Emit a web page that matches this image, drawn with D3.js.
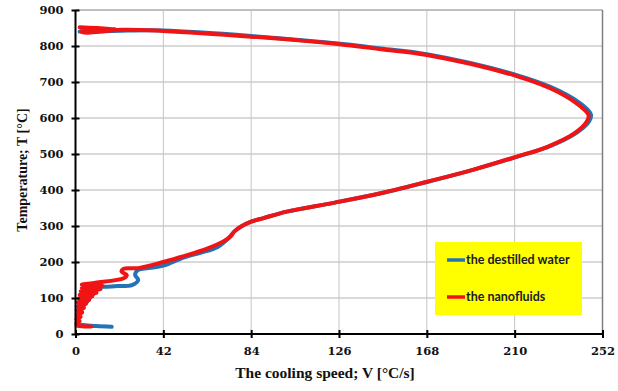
<!DOCTYPE html>
<html>
<head>
<meta charset="utf-8">
<script src="https://cdn.jsdelivr.net/npm/d3@7"></script>
<style>
  body { margin: 0; background: #fff; }
  .axis text { font-family: "DejaVu Serif", serif; font-weight: bold; font-size: 11.5px; fill: #111; }
  .title { font-family: "Liberation Serif", serif; font-weight: bold; fill: #111; }
  .legend text { font-family: Lato, sans-serif; font-weight: bold; font-size: 12.5px; fill: #1a1a2a; }
</style>
</head>
<body>
<div id="chart"></div>
<script>
// axis ticks
const xTicks = [0, 42, 84, 126, 168, 210, 252];
const yTicks = [0, 100, 200, 300, 400, 500, 600, 700, 800, 900];

// the destilled water: cooling speed V [°C/s] and temperature T [°C]
const waterV = [2, 12, 25, 42, 84, 129, 146, 168, 211, 231.5, 243, 246.5, 245.5, 239, 226, 211, 190, 168.5, 146, 124, 101, 90, 84, 79, 76, 73, 68, 60, 52, 42, 35, 30, 28.5, 30, 27, 20, 13.3, 8.5,
  4.5, 10, 3.5, 8.5, 3, 7, 2, 5.5, 1.5, 4, 1, 3, 0.7, 2.2, 0.5, 1.5, 0.5, 3.7, 10, 17.3];
const waterT = [840, 841, 843, 843, 828, 805, 793, 777, 719, 675, 633, 609, 590, 557, 520, 492, 456, 423, 391, 365, 340, 322, 312, 298, 285, 265, 242, 226, 213, 190, 183, 178, 164, 150, 136, 133, 131, 127,
  125, 121, 114, 110, 103, 99, 92, 88, 80, 75, 67, 62, 54, 48, 41, 35, 29, 25, 22, 20];

// the nanofluids
const nanoV = [2, 20, 3, 18, 3, 6, 22, 42, 84, 129, 146, 168, 210.6, 230.5, 241.7, 245.3, 244.5, 238.5, 225.7, 210.6, 190, 168.2, 145.9, 124, 101, 90, 84, 79, 76, 74, 69, 62, 55, 42, 30, 23, 22, 24.5, 23, 10,
  8, 3, 13, 3, 12, 2.5, 10, 2, 8, 1.5, 6.5, 1, 5, 1, 4, 0.8, 3.2, 0.6, 2.5, 0.5, 2, 0.5, 1.5, 0.5, 7.5];
const nanoT = [852, 847, 847, 846.5, 838, 837, 845, 842, 826, 803, 791, 775, 717, 673, 631, 608, 590, 557, 520, 492, 456, 423, 391, 365, 340, 322, 312, 298, 285, 270, 252, 235, 222, 200, 183, 181, 173, 164, 155, 143,
  141, 137, 134, 128, 124, 119, 114, 109, 104, 99, 94, 88, 83, 77, 72, 65, 60, 53, 48, 41, 36, 30, 26, 23, 21];

const seriesNames = ['the destilled water', 'the nanofluids'];
const seriesColors = ['#2373b6', '#f01414'];

class Chart {

    constructor(opts) {
        this.series = opts.series;
        this.element = opts.element;
        this.draw();
    }

    draw() {
        this.width = 618;
        this.height = 391;
        // plot area box in pixels
        this.box = { left: 75.5, right: 602.5, top: 10, bottom: 334 };

        this.element.innerHTML = '';
        this.svg = d3.select(this.element).append('svg')
            .attr('width', this.width)
            .attr('height', this.height);

        this.createScales();
        this.addGrid();
        this.addLines();
        this.addAxes();
        this.addTitles();
        this.addLegend();
    }

    createScales() {
        const b = this.box;
        this.xScale = d3.scaleLinear().domain([0, 252]).range([b.left, b.right]);
        this.yScale = d3.scaleLinear().domain([0, 900]).range([b.bottom, b.top]);
    }

    addGrid() {
        const b = this.box;
        const g = this.svg.append('g');

        g.selectAll('.hgrid')
            .data(yTicks.slice(1))
            .join('line')
            .attr('x1', b.left).attr('x2', b.right)
            .attr('y1', d => this.yScale(d)).attr('y2', d => this.yScale(d))
            .attr('stroke', d => d === 900 ? '#7f7f7f' : '#b4b4b4')
            .attr('stroke-width', 1);

        g.selectAll('.vgrid')
            .data(xTicks.slice(1))
            .join('line')
            .attr('x1', d => this.xScale(d)).attr('x2', d => this.xScale(d))
            .attr('y1', b.top).attr('y2', b.bottom)
            .attr('stroke', d => d === 252 ? '#7f7f7f' : '#c4c4c4')
            .attr('stroke-width', d => d === 252 ? 1.5 : 1);
    }

    addLines() {
        const line = d3.line()
            .x(d => this.xScale(d[0]))
            .y(d => this.yScale(d[1]))
            .curve(d3.curveCatmullRom.alpha(0.5));

        this.svg.append('g')
            .selectAll('path')
            .data(this.series)
            .join('path')
            .attr('d', d => line(d3.zip(d.v, d.t)))
            .attr('fill', 'none')
            .attr('stroke', d => d.color)
            .attr('stroke-width', 4)
            .attr('stroke-linejoin', 'round')
            .attr('stroke-linecap', 'round');
    }

    addAxes() {
        const b = this.box;

        const xAxis = d3.axisBottom(this.xScale)
            .tickValues(xTicks)
            .tickSize(4)
            .tickPadding(9);

        const yAxis = d3.axisLeft(this.yScale)
            .tickValues(yTicks)
            .tickSize(4)
            .tickPadding(8);

        const gx = this.svg.append('g')
            .attr('class', 'axis')
            .attr('transform', `translate(0,${b.bottom})`)
            .call(xAxis);

        const gy = this.svg.append('g')
            .attr('class', 'axis')
            .attr('transform', `translate(${b.left},0)`)
            .call(yAxis);

        // black axis lines, ticks crossing the axis
        [gx, gy].forEach(g => {
            g.select('.domain').remove();
            g.selectAll('.tick line').attr('stroke', '#000').attr('stroke-width', 2);
        });
        gx.selectAll('.tick line').attr('y1', -4).attr('y2', 4);
        gy.selectAll('.tick line').attr('x1', -4).attr('x2', 4);

        this.svg.append('line')
            .attr('x1', b.left).attr('x2', b.right + 1)
            .attr('y1', b.bottom).attr('y2', b.bottom)
            .attr('stroke', '#000').attr('stroke-width', 2);
        this.svg.append('line')
            .attr('x1', b.left).attr('x2', b.left)
            .attr('y1', b.top).attr('y2', b.bottom + 1)
            .attr('stroke', '#000').attr('stroke-width', 2);
    }

    addTitles() {
        this.svg.append('text')
            .attr('class', 'title')
            .attr('x', 325)
            .attr('y', 378)
            .attr('text-anchor', 'middle')
            .style('font-size', '15.5px')
            .text('The cooling speed; V [°C/s]');

        this.svg.append('text')
            .attr('class', 'title')
            .attr('transform', 'translate(27,170) rotate(-90)')
            .attr('text-anchor', 'middle')
            .style('font-size', '14px')
            .text('Temperature; T [°C]');
    }

    addLegend() {
        const lg = this.svg.append('g').attr('class', 'legend');

        lg.append('rect')
            .attr('x', 435).attr('y', 242)
            .attr('width', 147).attr('height', 73)
            .attr('fill', '#ffff00');

        const items = lg.selectAll('.item')
            .data(this.series)
            .join('g')
            .attr('transform', (d, i) => `translate(447,${260 + i * 37})`);

        items.append('line')
            .attr('x1', 0).attr('x2', 18)
            .attr('stroke', d => d.color)
            .attr('stroke-width', 3.5);

        items.append('text')
            .attr('x', 19)
            .attr('y', 4)
            .text(d => d.name);
    }
}

const chart = new Chart({
    element: document.getElementById('chart'),
    series: [
        { name: seriesNames[0], color: seriesColors[0], v: waterV, t: waterT },
        { name: seriesNames[1], color: seriesColors[1], v: nanoV, t: nanoT }
    ]
});
</script>
</body>
</html>
